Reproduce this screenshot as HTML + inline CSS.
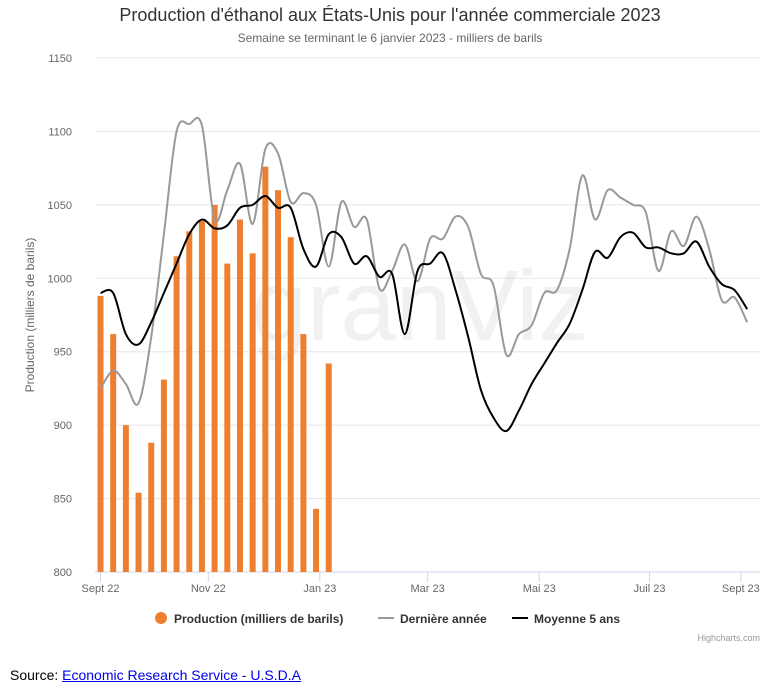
<!DOCTYPE html>
<html><head><meta charset="utf-8">
<style>
body{margin:0;background:#fff;width:776px;height:699px;overflow:hidden;font-family:"Liberation Sans",sans-serif;}
svg text{font-family:"Liberation Sans",sans-serif;}
.src{position:absolute;left:10px;top:667px;font-size:14px;color:#000;}
.src a{color:#00e;text-decoration:underline;}
</style></head><body>
<svg id="chart" width="776" height="660" style="position:absolute;left:0;top:0">
<text x="390" y="21" text-anchor="middle" font-size="18" fill="#333">Production d'éthanol aux États-Unis pour l'année commerciale 2023</text>
<text x="390" y="42" text-anchor="middle" font-size="12" fill="#666">Semaine se terminant le 6 janvier 2023 - milliers de barils</text>
<g id="grid"></g>
<text x="420" y="340" text-anchor="middle" font-size="100" fill="#000" opacity="0.05">granViz</text>
<g id="bars"></g><g id="lines"></g><g id="xaxis"></g>
<text transform="translate(34,315) rotate(-90)" text-anchor="middle" font-size="12" fill="#666">Production (milliers de barils)</text>
<g>
<g><circle cx="161" cy="618" r="6" fill="#ef7f30"/><text x="174" y="623" font-size="12" font-weight="bold" fill="#333">Production (milliers de barils)</text></g>
<g><line x1="378" y1="618" x2="394" y2="618" stroke="#999" stroke-width="2"/><text x="400" y="623" font-size="12" font-weight="bold" fill="#333">Dernière année</text></g>
<g><line x1="512" y1="618" x2="528" y2="618" stroke="#000" stroke-width="2"/><text x="534" y="623" font-size="12" font-weight="bold" fill="#333">Moyenne 5 ans</text></g>
</g>
<text x="760" y="641" text-anchor="end" font-size="9" fill="#999">Highcharts.com</text>
</svg>
<div class="src">Source: <a>Economic Research Service - U.S.D.A</a></div>
<script>
const yTicks=[800,850,900,950,1000,1050,1100,1150];
const xTickLabels=["Sept 22","Nov 22","Jan 23","Mar 23","Mai 23","Juil 23","Sept 23"];
const xTickWeeks=[0,8.5,17.3,25.8,34.6,43.3,50.5];
const production=[988,962,900,854,888,931,1015,1032,1039,1050,1010,1040,1017,1076,1060,1028,962,843,942];
const lastYear=[925,937,928,915,960,1030,1100,1105,1104,1040,1060,1078,1037,1088,1085,1052,1058,1050,1008,1052,1035,1040,993,1005,1023,998,1027,1027,1042,1035,1003,995,948,962,968,990,992,1020,1070,1040,1060,1055,1050,1045,1005,1032,1022,1042,1020,985,987,970];
const avg5=[990,990,962,955,970,990,1010,1030,1040,1034,1036,1048,1050,1056,1048,1048,1020,1008,1030,1028,1010,1015,1001,1003,962,1005,1010,1017,992,960,924,905,896,910,928,942,956,969,992,1018,1014,1028,1031,1021,1021,1017,1017,1025,1008,996,992,979];
const NS="http://www.w3.org/2000/svg";
const X0=95,X1=760;
function xw(i){return 100.5+i*12.68;}
function yv(v){return 572-(v-800)*(514/350);}
function mk(t,a,p){const e=document.createElementNS(NS,t);for(const k in a)e.setAttribute(k,a[k]);p.appendChild(e);return e;}
const grid=document.getElementById('grid');
yTicks.forEach(v=>{
  const l=mk('line',{x1:X0,x2:X1,y1:yv(v),y2:yv(v),stroke:v===800?'#ccd6eb':'#e6e6e6','stroke-width':1},grid);
  
  
  const t=mk('text',{x:72,y:yv(v)+4,'text-anchor':'end','font-size':11,fill:'#666'},grid);
  t.textContent=v;
  
  
});
const xa=document.getElementById('xaxis');
xTickLabels.forEach((s,k)=>{
  const x=xw(xTickWeeks[k]);
  const l=mk('line',{x1:x,x2:x,y1:572,y2:582,stroke:'#ccd6eb'},xa);
  
  
  const t=mk('text',{x:x,y:592,'text-anchor':'middle','font-size':11,fill:'#666'},xa);
  t.textContent=s;
  
  
});
const bars=document.getElementById('bars');
production.forEach((v,i)=>{
  const r=mk('rect',{x:xw(i)-3,y:yv(v),width:6,height:572-yv(v),fill:'#ef7f30'},bars);
  
  
});
function smooth(vals){
  const p=vals.map((v,i)=>[xw(i),yv(v)]);
  let d='M'+p[0][0]+','+p[0][1];
  for(let i=0;i<p.length-1;i++){
    const a=p[Math.max(0,i-1)],b=p[i],c=p[i+1],e=p[Math.min(p.length-1,i+2)];
    const c1=[b[0]+(c[0]-a[0])/6,b[1]+(c[1]-a[1])/6],c2=[c[0]-(e[0]-b[0])/6,c[1]-(e[1]-b[1])/6];
    d+=' C'+c1+' '+c2+' '+c;
  }
  return d;
}
const lines=document.getElementById('lines');
const g1=mk('path',{d:smooth(lastYear),fill:'none',stroke:'#999','stroke-width':2},lines);


const g2=mk('path',{d:smooth(avg5),fill:'none',stroke:'#000','stroke-width':2},lines);


</script>
</body></html>
